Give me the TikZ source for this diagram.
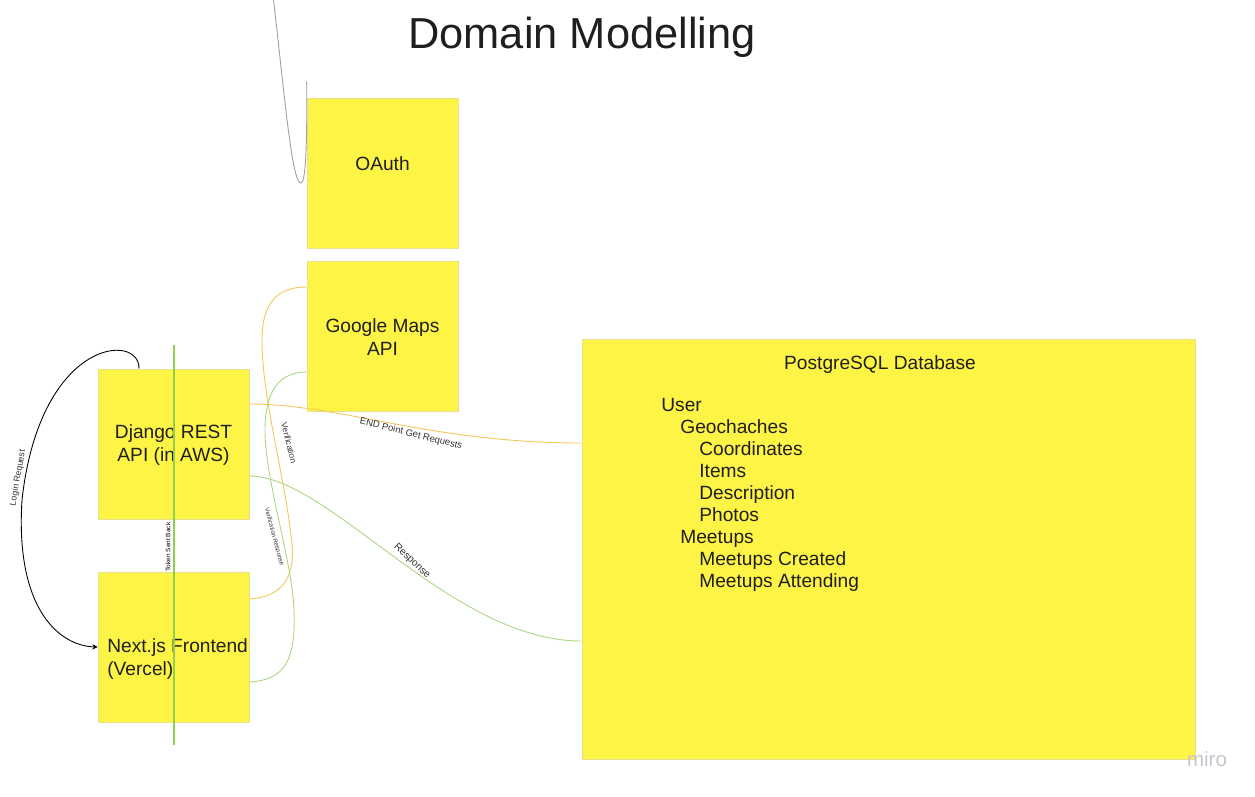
\documentclass[tikz,border=0pt]{standalone}
\usepackage{fontspec}
\setmainfont{Liberation Sans}
\usetikzlibrary{calc,arrows.meta}

\definecolor{stickyyellow}{HTML}{FEF445}
\definecolor{stickyedge}{HTML}{E9E190}
\definecolor{textdark}{HTML}{1F1F1F}
\definecolor{tagdark}{HTML}{333333}
\definecolor{wireorange}{HTML}{F3C65A}
\definecolor{wiregreen}{HTML}{A9D680}
\definecolor{tokengreen}{HTML}{8FD14F}
\definecolor{wiregray}{HTML}{9E9E9E}
\definecolor{mirogray}{HTML}{C5C5CF}

\tikzset{
  sticky/.style={draw=stickyedge, fill=stickyyellow, minimum width=3.02cm, minimum height=3cm, inner sep=0pt},
  boxtext/.style={font=\fontsize{10.9}{13.1}\selectfont, text=textdark, align=center, inner sep=0pt},
  dbitem/.style={font=\fontsize{10.9}{13.1}\selectfont, text=textdark, anchor=base west, inner sep=0pt},
  tag/.style={font=\fontsize{5}{6}\selectfont, text=tagdark, inner sep=0pt},
  wire/.style={line width=0.5pt},
}

\begin{document}
\begin{tikzpicture}[x=0.02cm,y=-0.02cm]
\useasboundingbox (0,0) rectangle (1255,796);

\node[font=\fontsize{24.7}{29}\selectfont, text=textdark, anchor=base] (title) at (582,48) {Domain Modelling};

% stickies
\node[sticky] (oauth) at (382.5,173) {};
\node[sticky] (gmaps) at (382.5,336) {};
\node[sticky] (django) at (173.5,444) {};
\node[sticky] (nextjs) at (173.5,647) {};
\node[sticky, minimum width=12.26cm, minimum height=8.4cm] (db) at (888.5,549) {};

\node[boxtext, anchor=base] (oauthtxt) at (382.5,170) {OAuth};
\node[boxtext] (gmapstxt) at (382.5,337) {Google Maps\\API};
\node[boxtext] (djangotxt) at (173.5,445) {Django REST\\API (in AWS)};
\node[boxtext, align=left, anchor=west] (nextjstxt) at (107,659) {Next.js Frontend\\(Vercel)};
\node[boxtext, anchor=base] (dbtxt) at (880,369) {PostgreSQL Database};

\foreach \lvl/\txt [count=\k] in {0/User,1/Geochaches,2/Coordinates,2/Items,2/Description,2/Photos,1/Meetups,2/Meetups Created,2/Meetups Attending}
  \node[dbitem] (item\k) at (661+19*\lvl,389+22*\k) {\txt};

% connectors
\coordinate (gtop) at (273,-5);
\draw[wire, wiregray] (gtop) .. controls (285,100) and (292,183) .. (301,183)
  .. controls (307,183) and (307,120) .. ($(oauth.north west)+(0,-16)$);

\draw[wire, black, -{Stealth[length=3pt,width=3pt]}] ($(django.north)+(-34.5,0)$)
  .. controls (140,332) and (40,338) .. (22,500)
  .. controls (15,610) and (60,646) .. (nextjs.west);

\draw[line width=1pt, tokengreen] ($(django.north)+(0.5,-24)$) -- ($(nextjs.south)+(0.5,23)$);

\draw[wire, wireorange] ($(nextjs.east)+(0,-48)$)
  .. controls (280,597) and (295,580) .. (292,545)
  .. controls (286,480) and (262,400) .. (262,340)
  .. controls (262,300) and (280,287) .. ($(gmaps.west)+(0,-49)$);

\draw[wire, wiregreen] ($(nextjs.east)+(0,35)$)
  .. controls (285,680) and (296,660) .. (294,610)
  .. controls (292,560) and (265,480) .. (265,430)
  .. controls (265,390) and (280,372) .. ($(gmaps.west)+(0,36)$);

\draw[wire, wireorange] ($(django.east)+(0,-40)$)
  .. controls (340,404) and (430,443) .. ($(db.west)+(0,-106)$);

\draw[wire, wiregreen] ($(django.east)+(0,32)$)
  .. controls (330,476) and (450,641) .. ($(db.west)+(0,92)$);

% connector labels
\node[tag, rotate=80] (loginlbl) at (18,478) {Login Request};
\node[tag, font=\fontsize{3.7}{4.5}\selectfont, text=black, rotate=90] (tokenlbl) at (168,547) {Token Sent Back};
\node[tag, font=\fontsize{4.8}{6}\selectfont, rotate=-76] (veriflbl) at (289,443) {Verification};
\node[tag, font=\fontsize{3.5}{4.5}\selectfont, rotate=-75] (veriresplbl) at (274,537) {Verification Response};
\node[tag, font=\fontsize{5.4}{6.5}\selectfont, rotate=-14] (endptlbl) at (411,434) {END Point Get Requests};
\node[tag, font=\fontsize{5.8}{7}\selectfont, rotate=-43] (resplbl) at (412,561) {Response};

\node[font=\fontsize{11.7}{14}\selectfont, text=mirogray, anchor=base] (miro) at (1207,766) {miro};
\end{tikzpicture}
\end{document}
